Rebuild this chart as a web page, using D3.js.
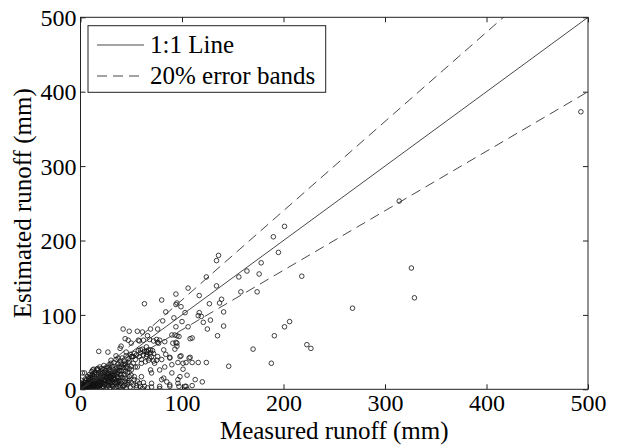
<!DOCTYPE html>
<html>
<head>
<meta charset="utf-8">
<script src="https://cdn.jsdelivr.net/npm/d3@7"></script>
<style>
  body { margin: 0; background: #fff; }
  svg text { font-family: 'Liberation Serif', 'Times New Roman', serif !important; fill: #000; }
</style>
</head>
<body>
<div class="chart"></div>
<script>
// [measured, estimated] in mm
var outliers = [[493,373],[314,253],[326,163],[329,123],[268,109],[227,55],[223,60],[206,91],[201,84],
  [191,72],[188,35],[170,54],[146,31],[218,152],[201,219],[190,205],[195,184]];

var midPoints = [[178,170],[176,155],[164,159],[156,151],[136,180],[134,173],[124,151],[106,136],[134,139],
  [117,126],[158,131],[174,131],[139,121],[127,115],[137,116],[99,111],[95,116],[141,104],[103,103],[117,103],
  [116,99],[119,98],[121,90],[128,93],[106,84],[141,85],[125,81],[135,72],[97,71],[108,68],[110,69],[95,62],
  [93,54],[99,45],[107,42],[104,36],[110,36],[124,36],[96,36],[101,27],[98,17],[105,19],[113,13],[96,8],
  [103,4],[97,4],[63,115],[80,120],[94,128],[94,114],[84,104],[81,92],[92,96],[94,84],[95,72],[90,73],
  [100,91],[61,77],[69,81],[76,81],[42,81],[48,78],[44,68],[47,66],[62,66],[68,67],[75,67],[78,66],[58,65],
  [72,65],[76,63],[50,62],[18,51],[27,50],[39,55],[82,53],[94,63],[95,58],[98,44],[108,43],[116,36],[101,35],
  [90,33],[88,42],[104,4],[88,4],[78,4],[63,4],[82,15],[78,26],[69,26],[65,44],[59,53],[65,57],[69,53],
  [72,48],[52,44],[75,39],[54,30],[60,17],[50,19],[57,66],[65,51],[77,62],[83,64],[91,62],[93,73],[4,22],
  [12,26],[17,28],[1,8],[30,39],[44,35],[60,35],[67,39],[73,35],[83,30],[90,22],[80,13],[78,1],[88,6],
  [96,13],[53,17],[70,22],[50,44],[37,42],[105,0],[110,5],[120,10],[85,10],[70,8],[55,5],[45,50],[35,45],
  [56,78],[40,58],[66,72]];

var lowCluster = [[1,1],[2,0],[3,2],[4,1],[5,3],[6,0],[2,4],[3,6],[5,7],[7,5],[8,2],[9,8],[10,4],[11,1],
  [12,9],[13,6],[14,12],[15,3],[16,10],[17,14],[18,7],[19,16],[20,11],[21,2],[22,18],[23,13],[24,20],[25,8],
  [26,15],[27,22],[28,5],[29,17],[30,24],[31,12],[32,27],[33,19],[34,9],[35,28],[36,21],[37,4],[38,30],
  [39,16],[40,25],[41,11],[42,33],[43,20],[44,7],[45,29],[46,14],[47,36],[48,23],[49,3],[50,31],
  [4,5],[6,8],[8,11],[10,13],[12,15],[14,17],[16,20],[18,22],[20,24],[22,26],[24,28],[26,30],[28,33],[30,35],
  [6,3],[8,6],[10,9],[12,11],[14,8],[16,5],[18,12],[20,15],[22,9],[24,12],[26,18],[28,21],[30,16],[32,14],
  [34,24],[36,17],[38,12],[40,19],[42,26],[44,15],[46,22],[48,17],[3,0],[7,1],[9,3],[13,2],[15,0],[17,4],
  [19,1],[23,3],[25,0],[27,6],[29,2],[31,5],[33,1],[35,7],[37,10],[39,3],[41,0],[43,5],[45,2],[47,9],[52,6],
  [55,2],[58,8],[61,1],[1,12],[2,22],[4,9],[5,14],[7,17],[9,20],[11,24],[13,27],[15,22],[17,26],[19,30],
  [21,28],[23,32],[25,25],[27,29],[29,27],[31,31],[33,36],[35,40],[37,34],[39,38],[41,42],[43,38],[45,45],
  [47,41],[49,47],[51,44],[53,48],[55,46],[57,52],[59,49],[61,54],[63,51],[65,47],[67,53],[69,49],[71,52],
  [11,6],[13,4],[15,11],[17,8],[19,5],[21,13],[23,7],[25,16],[27,11],[29,9],[31,19],[33,13],[35,11],[37,23],
  [39,20],[41,16],[10,18],[12,20],[14,23],[16,27],[20,19],[24,23],[28,26],[32,22],[36,26],[40,30],[44,33],
  [48,28],[52,35],[56,30],[60,40],[64,37],[68,42],[72,38],[76,44],[80,40],[84,47],[88,43],
  [2,2],[3,4],[4,3],[5,1],[6,5],[7,3],[8,4],[9,1],[10,7],[11,3],[12,5],[13,10],[14,4],[15,7],[16,2],
  [17,11],[18,3],[19,9],[20,6],[21,8],[22,4],[23,10],[24,6],[25,12],[26,3],[27,14],[28,10],[29,13],[30,7],
  [31,9],[32,4],[33,16],[34,13],[35,3],[36,9],[37,15],[38,6],[39,11],[40,8],[42,4],[44,11],[46,6],[48,12],
  [50,9],[53,13],[56,11],[59,4],[62,9],[66,2],[70,3],[1,4],[2,7],[3,10],[5,11],[6,13],[7,9],[8,15],[9,12],
  [10,16],[12,18],[14,20],[16,14],[18,17],[20,21],[22,22],[24,17],[26,21],[28,18],[30,20],[32,18],[34,20],
  [36,30],[38,25],[40,34],[42,29],[44,24],[46,31],[48,38],[50,26],[54,40],[58,44],[62,46],[66,50],[70,44]];

var xTicks = [0, 100, 200, 300, 400, 500];
var yTicks = [0, 100, 200, 300, 400, 500];
var errorBand = 0.2;

function init() {
  var width = 618,
      height = 445,
      left = 80.5,
      right = 588,
      top = 17.3,
      bottom = 389.3,
      tickLen = 5,
      tickFont = 24,
      fontSize = 25,
      serif = 'Liberation Serif, serif';

  var svg = d3.select('.chart')
    .append('svg')
      .attr('width', width)
      .attr('height', height);

  var x = d3.scaleLinear().domain([0, 500]).range([left, right]);
  var y = d3.scaleLinear().domain([0, 500]).range([bottom, top]);

  svg.append('defs').append('clipPath').attr('id', 'plot')
    .append('rect')
      .attr('x', left).attr('y', top)
      .attr('width', right - left).attr('height', bottom - top);

  var plot = svg.append('g').attr('clip-path', 'url(#plot)');

  var points = lowCluster.concat(midPoints, outliers);
  plot.selectAll('circle').data(points)
    .enter().append('circle')
      .attr('cx', function(d) { return x(d[0]); })
      .attr('cy', function(d) { return y(d[1]); })
      .attr('r', 2.3)
      .style('fill', 'none')
      .style('stroke', '#111')
      .style('stroke-width', 0.8);

  var line = d3.line()
    .x(function(d) { return x(d[0]); })
    .y(function(d) { return y(d[1]); });

  plot.append('path')
    .attr('d', line([[0, 0], [500, 500]]))
    .style('fill', 'none').style('stroke', '#333').style('stroke-width', 0.9);

  [1 + errorBand, 1 - errorBand].forEach(function(k) {
    plot.append('path')
      .attr('d', line([[0, 0], [500, 500 * k]]))
      .style('fill', 'none').style('stroke', '#333').style('stroke-width', 0.9)
      .style('stroke-dasharray', '10,6');
  });

  // axes, ticks pointing inward, mirrored on top and right
  var xAxis = d3.axisBottom(x).tickValues(xTicks).tickSizeInner(-tickLen).tickSizeOuter(0).tickPadding(5);
  var yAxis = d3.axisLeft(y).tickValues(yTicks).tickSizeInner(-tickLen).tickSizeOuter(0).tickPadding(4);

  var gx = svg.append('g').attr('transform', 'translate(0,' + bottom + ')').call(xAxis);
  var gy = svg.append('g').attr('transform', 'translate(' + left + ',0)').call(yAxis);
  var gxTop = svg.append('g').attr('transform', 'translate(0,' + top + ')')
    .call(d3.axisTop(x).tickValues(xTicks).tickSizeInner(-tickLen).tickSizeOuter(0).tickFormat(''));
  var gyRight = svg.append('g').attr('transform', 'translate(' + right + ',0)')
    .call(d3.axisRight(y).tickValues(yTicks).tickSizeInner(-tickLen).tickSizeOuter(0).tickFormat(''));

  [gx, gy, gxTop, gyRight].forEach(function(g) {
    g.attr('font-family', serif).attr('font-size', tickFont);
    g.select('.domain').remove();
    g.selectAll('line').style('stroke', '#222');
    g.selectAll('text').attr('font-family', serif).style('fill', '#000');
  });
  gy.selectAll('text').attr('dy', '0.34em');

  svg.append('rect')
    .attr('x', left).attr('y', top)
    .attr('width', right - left).attr('height', bottom - top)
    .style('fill', 'none').style('stroke', '#222').style('stroke-width', 1);

  svg.append('text')
    .attr('x', (left + right) / 2).attr('y', 439)
    .attr('text-anchor', 'middle')
    .attr('font-size', fontSize)
    .text('Measured runoff (mm)');

  svg.append('text')
    .attr('transform', 'translate(31,' + (top + bottom) / 2 + ') rotate(-90)')
    .attr('text-anchor', 'middle')
    .attr('font-size', fontSize)
    .text('Estimated runoff (mm)');

  // legend
  var legend = svg.append('g');
  legend.append('rect')
    .attr('x', 88).attr('y', 25.7).attr('width', 237.7).attr('height', 66.6)
    .style('fill', '#fff').style('stroke', '#222').style('stroke-width', 1);
  var items = [{ label: '1:1 Line', dash: null }, { label: '20% error bands', dash: '10,6' }];
  items.forEach(function(d, i) {
    var cy = 45 + i * 31;
    legend.append('line')
      .attr('x1', 97).attr('x2', 144).attr('y1', cy).attr('y2', cy)
      .style('stroke', '#333').style('stroke-width', 0.9)
      .style('stroke-dasharray', d.dash);
    legend.append('text')
      .attr('x', 150).attr('y', cy + 8)
      .attr('font-size', fontSize)
      .text(d.label);
  });
}

d3.select(window).on('load', init);
</script>
</body>
</html>
